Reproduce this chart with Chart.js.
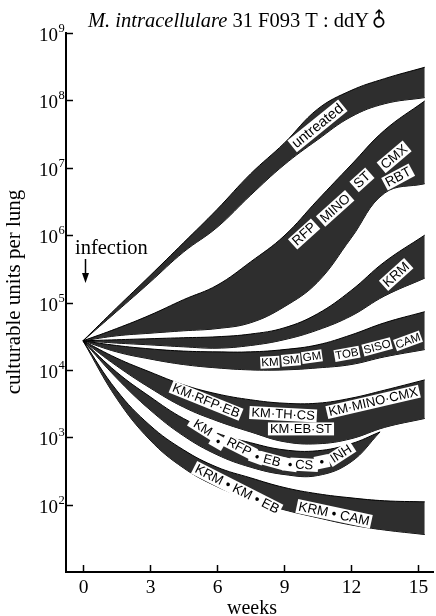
<!DOCTYPE html>
<html><head><meta charset="utf-8">
<script src="https://cdn.jsdelivr.net/npm/chart.js@4.4.1/dist/chart.umd.min.js"></script>
<style>html,body{margin:0;padding:0;background:#fff}#wrap{width:436px;height:616px;position:relative}</style>
</head><body><div id="wrap"><canvas id="c"></canvas></div>
<script>
// weeks at which band edges were read
const weeks = [0, 1.5, 3, 4.5, 6, 7.5, 9, 10.5, 12, 13.5, 15.3];
const weeksInh = [0, 1.5, 3, 4.5, 6, 7.5, 9, 10.5, 12, 13.3];
const xTickValues = [0, 3, 6, 9, 12, 15];
const yDecades = [1e1, 1e2, 1e3, 1e4, 1e5, 1e6, 1e7, 1e8, 1e9];

// untreated
const untreatedHigh = [2.7e4, 8.3e4, 2.5e5, 7.7e5, 2.4e6, 8.1e6, 2.3e7, 7.4e7, 1.4e8, 2.1e8, 3.1e8];
const untreatedLow  = [2.7e4, 7.3e4, 2.0e5, 5.6e5, 1.3e6, 3.9e6, 1.1e7, 2.6e7, 5.7e7, 8.9e7, 1.1e8];
// RFP MINO ST CMX RBT
const rfpHigh = [2.7e4, 4.1e4, 6.5e4, 1.1e5, 1.8e5, 4.0e5, 9.7e5, 3.3e6, 1.1e7, 3.6e7, 9.8e7];
const rfpLow  = [2.7e4, 3.2e4, 3.5e4, 3.8e4, 4.1e4, 5.0e4, 8.6e4, 2.0e5, 9.0e5, 4.2e6, 5.8e6];
// KRM
const krmHigh = [2.7e4, 2.8e4, 2.9e4, 3.0e4, 3.1e4, 3.4e4, 4.2e4, 6.8e4, 1.5e5, 4.0e5, 1.0e6];
const krmLow  = [2.7e4, 2.5e4, 2.35e4, 2.2e4, 2.1e4, 2.3e4, 2.8e4, 3.9e4, 6.3e4, 1.25e5, 2.3e5];
// KM SM GM TOB SISO CAM
const amgHigh = [2.7e4, 2.3e4, 2.05e4, 1.9e4, 1.85e4, 1.85e4, 2.0e4, 2.35e4, 3.3e4, 5.0e4, 7.3e4];
const amgLow  = [2.7e4, 1.85e4, 1.45e4, 1.2e4, 1.07e4, 1.0e4, 1.0e4, 1.07e4, 1.2e4, 1.56e4, 2.0e4];
// KM-RFP-EB, KM-TH-CS, KM-MINO-CMX, KM-EB-ST
const comboHigh = [2.7e4, 1.5e4, 9.3e3, 6.0e3, 4.4e3, 3.6e3, 3.2e3, 3.2e3, 3.8e3, 5.0e3, 7.1e3];
const comboLow  = [2.7e4, 1.15e4, 5.4e3, 2.8e3, 1.75e3, 1.2e3, 8.6e2, 8.0e2, 9.5e2, 1.4e3, 1.9e3];
// KM RFP EB CS INH
const inhHigh = [2.7e4, 9.3e3, 4.0e3, 1.9e3, 1.15e3, 8.3e2, 6.5e2, 6.3e2, 8.0e2, 1.2e3];
const inhLow  = [2.7e4, 7.6e3, 2.55e3, 1.05e3, 5.5e2, 3.6e2, 2.8e2, 2.7e2, 4.3e2, 1.2e3];
// KRM KM EB, KRM CAM
const krmCamHigh = [2.7e4, 5.0e3, 1.5e3, 6.5e2, 3.6e2, 2.5e2, 1.8e2, 1.45e2, 1.26e2, 1.14e2, 1.1e2];
const krmCamLow  = [2.7e4, 3.8e3, 9.1e2, 3.5e2, 1.85e2, 1.18e2, 84, 64, 50, 42, 36];

// band annotations: text, week, value, angle (deg), horizontal padding, font size
const bandLabels = [
  ['untreated', 10.5, 4.2e7, -39, 2, 14.5],
  ['RFP', 9.90, 1.04e6, -42, 2, 13.5], ['MINO', 11.29, 2.5e6, -42, 2, 13.5], ['ST', 12.49, 6.6e6, -42, 2, 13.5],
  ['CMX', 13.93, 1.45e7, -40, 2, 13.5], ['RBT', 14.11, 7.3e6, -28, 2, 13.5],
  ['KRM', 14.02, 2.6e5, -42, 2, 13.5],
  ['KM', 8.37, 1.3e4, -3, 1, 11.5], ['SM', 9.31, 1.4e4, -5, 1, 11.5], ['GM', 10.25, 1.57e4, -8, 1, 11.5],
  ['TOB', 11.82, 1.73e4, -10, 1, 11.5], ['SISO', 13.17, 2.2e4, -15, 1, 11.5], ['CAM', 14.55, 2.7e4, -20, 1, 11.5],
  ['KM·RFP·EB', 5.51, 3.5e3, 22, 2, 13], ['KM·TH·CS', 8.96, 2.2e3, 3, 2, 13],
  ['KM·MINO·CMX', 12.99, 3.35e3, -13, 2, 13], ['KM·EB·ST', 9.76, 1.33e3, 0, 2, 13],
  ['KM', 5.37, 1.38e3, 32, 5, 13], ['•', 6.04, 8.6e2, 30, 5, 13], ['RFP', 6.99, 7.2e2, 27, 5, 13], ['•', 7.79, 5.1e2, 20, 5, 13],
  ['EB', 8.46, 4.5e2, 15, 5, 13], ['•', 9.27, 3.9e2, 8, 5, 13], ['CS', 9.90, 3.9e2, 3, 5, 13], ['•', 10.70, 4.3e2, -12, 5, 13],
  ['INH', 11.55, 5.7e2, -33, 3, 13],
  ['KRM • KM • EB', 6.9, 1.7e2, 27, 2, 13.5], ['KRM • CAM', 11.24, 73, 12, 2, 13.5]
];

const FILL = '#2e2e2e';
function pts(xs, ys) { return xs.map((x, i) => ({ x: x, y: ys[i] })); }
function band(name, xs, hi, lo) {
  return [
    { label: name + ' high', data: pts(xs, hi), fill: '+1', backgroundColor: FILL, borderColor: '#000', borderWidth: 1 },
    { label: name + ' low', data: pts(xs, lo), fill: false, borderColor: '#000', borderWidth: 1 }
  ];
}
const datasets = [].concat(
  band('untreated', weeks, untreatedHigh, untreatedLow),
  band('RFP MINO ST CMX RBT', weeks, rfpHigh, rfpLow),
  band('KRM', weeks, krmHigh, krmLow),
  band('KM SM GM TOB SISO CAM', weeks, amgHigh, amgLow),
  band('KM combos', weeks, comboHigh, comboLow),
  band('KM RFP EB CS INH', weeksInh, inhHigh, inhLow),
  band('KRM KM EB / KRM CAM', weeks, krmCamHigh, krmCamLow)
);

const SERIF = '"Liberation Serif", "DejaVu Serif", serif';
const SANS = '"Liberation Sans", Arial, sans-serif';

const decor = {
  id: 'decor',
  afterDatasetsDraw(chart) {
    const ctx = chart.ctx, xs = chart.scales.x, ys = chart.scales.y;
    const items = bandLabels.map(([t, w, v, ang, pad, size]) => ({ t, pad, size, ang: ang * Math.PI / 180,
      px: xs.getPixelForValue(w), py: ys.getPixelForValue(v) }));
    ctx.save();
    items.forEach(it => {
      ctx.font = it.size + 'px ' + SANS;
      const tw = ctx.measureText(it.t).width, h = Math.round(it.size);
      ctx.save(); ctx.translate(it.px, it.py); ctx.rotate(it.ang);
      ctx.fillStyle = '#fff';
      ctx.fillRect(-tw / 2 - it.pad, -h / 2, tw + 2 * it.pad, h);
      ctx.restore();
    });
    items.forEach(it => {
      ctx.font = it.size + 'px ' + SANS;
      ctx.save(); ctx.translate(it.px, it.py); ctx.rotate(it.ang);
      ctx.fillStyle = '#000'; ctx.textAlign = 'center'; ctx.textBaseline = 'middle';
      ctx.fillText(it.t, 0, 0.5);
      ctx.restore();
    });
    ctx.restore();
  },
  afterDraw(chart) {
    const ctx = chart.ctx, xs = chart.scales.x, ys = chart.scales.y, a = chart.chartArea;
    ctx.save();
    ctx.strokeStyle = '#000'; ctx.lineWidth = 1.5; ctx.fillStyle = '#000';
    xs.ticks.forEach(t => {
      const px = Math.round(xs.getPixelForValue(t.value)) + 0.5;
      ctx.beginPath(); ctx.moveTo(px, a.bottom); ctx.lineTo(px, a.bottom - 7); ctx.stroke();
      ctx.font = '19.5px ' + SERIF; ctx.textAlign = 'center'; ctx.textBaseline = 'alphabetic';
      ctx.fillText(String(t.value), px, 593);
    });
    ys.ticks.forEach(t => {
      if (t.value <= 10) return;
      const py = Math.round(ys.getPixelForValue(t.value)) + 0.5;
      ctx.beginPath(); ctx.moveTo(a.left, py); ctx.lineTo(a.left + 7, py); ctx.stroke();
      const e = Math.round(Math.log10(t.value));
      ctx.font = '19px ' + SERIF; ctx.textAlign = 'right'; ctx.textBaseline = 'alphabetic';
      ctx.fillText('10', 58, py + 7);
      ctx.font = '12.5px ' + SERIF; ctx.textAlign = 'left';
      ctx.fillText(String(e), 58.5, py - 2);
    });
    // title
    ctx.textBaseline = 'alphabetic'; ctx.textAlign = 'left';
    let x = 88;
    ctx.font = 'italic 20.5px ' + SERIF;
    ctx.fillText('M. intracellulare', x, 27); x += ctx.measureText('M. intracellulare').width;
    ctx.font = '20.5px ' + SERIF;
    const rest = ' 31 F093 T : ddY ';
    ctx.fillText(rest, x, 27); x += ctx.measureText(rest).width;
    ctx.save(); ctx.translate(x + 6, 21); ctx.rotate(-Math.PI / 4);
    ctx.font = '20px "DejaVu Sans"'; ctx.textAlign = 'center'; ctx.textBaseline = 'middle';
    ctx.fillText('♂', 0, 0); ctx.restore();
    // axis titles
    ctx.font = '20px ' + SERIF; ctx.textAlign = 'center';
    ctx.fillText('weeks', 252, 614);
    ctx.save(); ctx.translate(20, 292); ctx.rotate(-Math.PI / 2);
    ctx.font = '21px ' + SERIF;
    ctx.fillText('culturable units per lung', 0, 0); ctx.restore();
    // infection marker
    ctx.textAlign = 'left'; ctx.font = '20.5px ' + SERIF;
    ctx.fillText('infection', 75, 254);
    ctx.beginPath(); ctx.moveTo(85.5, 259); ctx.lineTo(85.5, 276); ctx.lineWidth = 1.5; ctx.stroke();
    ctx.beginPath(); ctx.moveTo(82, 273); ctx.lineTo(89, 273); ctx.lineTo(85.5, 283); ctx.closePath(); ctx.fill();
    ctx.restore();
  }
};

new Chart(document.getElementById('c'), {
  type: 'line',
  data: { datasets: datasets },
  options: {
    responsive: true, maintainAspectRatio: false, animation: false,
    layout: { padding: { left: 66, top: 33, right: 3, bottom: 44 } },
    elements: { point: { radius: 0 }, line: { tension: 0.4 } },
    plugins: { legend: { display: false }, tooltip: { enabled: false }, title: { display: false } },
    scales: {
      x: {
        type: 'linear', min: -0.76, max: 15.67,
        afterBuildTicks(s) { s.ticks = xTickValues.map(v => ({ value: v })); },
        afterFit(s) { s.height = 0; },
        grid: { display: false, drawTicks: false },
        border: { display: true, color: '#000', width: 2 },
        ticks: { display: false }
      },
      y: {
        type: 'logarithmic', min: 10, max: 1e9,
        afterBuildTicks(s) { s.ticks = yDecades.map(v => ({ value: v })); },
        afterFit(s) { s.width = 0; },
        grid: { display: false, drawTicks: false },
        border: { display: true, color: '#000', width: 2 },
        ticks: { display: false }
      }
    }
  },
  plugins: [decor]
});
</script></body></html>
